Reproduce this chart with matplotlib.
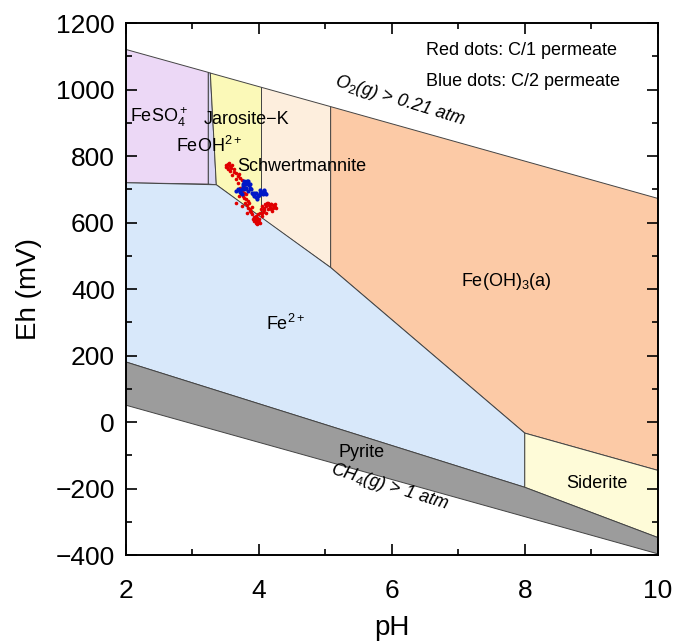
import numpy as np
import matplotlib
matplotlib.use("Agg")
import matplotlib.pyplot as plt
from matplotlib.ticker import MultipleLocator

plt.rcParams['font.family'] = ['Liberation Sans', 'DejaVu Sans']
plt.rcParams['mathtext.fontset'] = 'custom'
plt.rcParams['mathtext.rm'] = 'Liberation Sans'
plt.rcParams['mathtext.it'] = 'Liberation Sans:italic'

# stability field boundaries (pH, Eh in mV)
feso4 = [(2, 1121), (3.24, 1052), (3.24, 716), (2, 720)]
feoh = [(3.24, 1052), (3.27, 1050), (3.36, 714), (3.24, 716)]
jarosite = [(3.27, 1050), (4.04, 1007), (4.04, 614), (3.36, 714)]
schwert = [(4.04, 1007), (5.08, 949), (5.08, 465), (4.04, 614)]
feoh3 = [(5.08, 949), (10, 673), (10, -145), (8, -33), (5.08, 465)]
fe2 = [(2, 720), (3.36, 714), (5.08, 465), (8, -33), (8, -196), (2, 181)]
siderite = [(8, -33), (10, -145), (10, -347), (8, -196)]
pyrite = [(2, 181), (8, -196), (10, -347), (10, -396), (2, 51)]

# measured permeate points
red_ph = [3.50, 3.52, 3.54, 3.56, 3.58, 3.53, 3.60, 3.62, 3.57, 3.51, 3.55,
          3.66, 3.68, 3.65, 3.70, 3.72, 3.69, 3.74, 3.72, 3.75, 3.78, 3.76,
          3.80, 3.79, 3.82, 3.84, 3.86, 3.88, 3.90, 3.92, 3.94, 3.96, 3.98,
          3.93, 3.95, 3.97, 3.99, 4.01, 4.03, 4.05, 4.07, 4.09, 4.11, 4.13,
          4.15, 4.17, 4.19, 4.21, 4.23, 4.25, 4.20, 4.10, 4.05, 4.00, 3.80,
          3.70, 3.66, 3.82, 3.85, 3.78, 3.75, 4.02, 4.08, 4.14, 4.18, 3.97,
          3.89, 3.87, 3.91, 4.12, 4.16, 4.22, 4.06, 4.04, 3.98, 4.00, 3.95,
          3.77, 3.81, 3.83, 4.24, 4.26, 4.19, 3.63, 3.59]
red_eh = [772, 768, 775, 770, 765, 760, 772, 762, 756, 766, 778,
          750, 740, 730, 745, 735, 720, 728, 705, 695, 690, 680,
          670, 660, 652, 645, 640, 632, 625, 618, 612, 606, 600,
          605, 620, 615, 625, 630, 640, 650, 645, 655, 650, 640,
          652, 648, 642, 645, 650, 648, 635, 630, 620, 610, 700,
          680, 660, 630, 660, 712, 650, 600, 638, 658, 655, 595,
          648, 635, 612, 660, 657, 652, 633, 628, 608, 603, 598,
          675, 685, 665, 655, 643, 655, 752, 742]
blue_ph = [3.66, 3.68, 3.70, 3.72, 3.74, 3.76, 3.77, 3.79, 3.81, 3.83, 3.85,
           3.86, 3.88, 3.89, 3.91, 3.93, 3.95, 3.97, 3.99, 4.01, 4.03, 4.05,
           4.07, 4.09, 4.10, 3.80, 3.75, 3.78, 3.84, 3.92, 3.76, 3.82, 3.87,
           3.73, 4.00, 3.96, 3.78, 3.80, 3.84, 4.02, 4.06, 4.08]
blue_eh = [695, 700, 698, 692, 702, 710, 720, 722, 718, 720, 712,
           705, 700, 690, 685, 680, 676, 672, 680, 688, 692, 690,
           695, 688, 685, 705, 685, 700, 695, 690, 715, 725, 715,
           688, 684, 690, 726, 715, 724, 697, 685, 698]

fig = plt.figure(figsize=(6.88, 6.44), dpi=100)
ax = fig.add_axes([0.183, 0.138, 0.773, 0.826])

fields = [(feso4, '#ecd8f6'), (feoh, '#d8d6f4'), (jarosite, '#fbf9b8'),
          (schwert, '#fdeedd'), (feoh3, '#fccaa6'), (fe2, '#d8e8fa'),
          (siderite, '#fefbd8'), (pyrite, '#9c9c9c')]
for poly, col in fields:
    xs, ys = zip(*poly)
    ax.fill(xs, ys, facecolor=col, edgecolor='#444444', linewidth=0.7)

ax.plot(red_ph, red_eh, 'o', color='#e00000', ms=2.6, mew=0)
ax.plot(blue_ph, blue_eh, 'o', color='#0018c8', ms=3.0, mew=0)

fs = 13
ax.text(2.5, 916, 'FeSO$_4^+$', fontsize=fs, ha='center', va='center')
ax.text(3.82, 910, 'Jarosite\u2212K', fontsize=fs, ha='center', va='center')
ax.text(3.25, 832, 'FeOH$^{2+}$', fontsize=fs, ha='center', va='center')
ax.text(3.67, 770, 'Schwertmannite', fontsize=fs, ha='left', va='center')
ax.text(7.72, 423, 'Fe(OH)$_3$(a)', fontsize=fs, ha='center', va='center')
ax.text(4.4, 295, 'Fe$^{2+}$', fontsize=fs, ha='center', va='center')
ax.text(5.55, -90, 'Pyrite', fontsize=fs, ha='center', va='center')
ax.text(9.08, -184, 'Siderite', fontsize=fs, ha='center', va='center')
ax.text(6.12, 966, 'O$_2$(g) > 0.21 atm', fontsize=fs, ha='center', va='center',
        rotation=-17, style='italic')
ax.text(5.97, -196, 'CH$_4$(g) > 1 atm', fontsize=fs, ha='center', va='center',
        rotation=-17, style='italic')
ax.text(6.51, 1118, 'Red dots: C/1 permeate', fontsize=fs, ha='left', va='center')
ax.text(6.51, 1024, 'Blue dots: C/2 permeate', fontsize=fs, ha='left', va='center')

ax.set_xlim(2, 10)
ax.set_ylim(-400, 1200)
ax.xaxis.set_major_locator(MultipleLocator(2))
ax.xaxis.set_minor_locator(MultipleLocator(1))
ax.yaxis.set_major_locator(MultipleLocator(200))
ax.yaxis.set_minor_locator(MultipleLocator(100))
ax.tick_params(which='both', direction='in', top=True, right=True, width=1.2,
               labelsize=19)
ax.tick_params(which='major', length=8)
ax.tick_params(which='minor', length=4)
ax.tick_params(axis='x', pad=17)
ax.tick_params(axis='y', pad=8)
for s in ax.spines.values():
    s.set_linewidth(1.4)
ax.set_xlabel('pH', fontsize=20, labelpad=9)
ax.set_ylabel('Eh (mV)', fontsize=20, labelpad=10)

fig.savefig('out.png', dpi=100)
